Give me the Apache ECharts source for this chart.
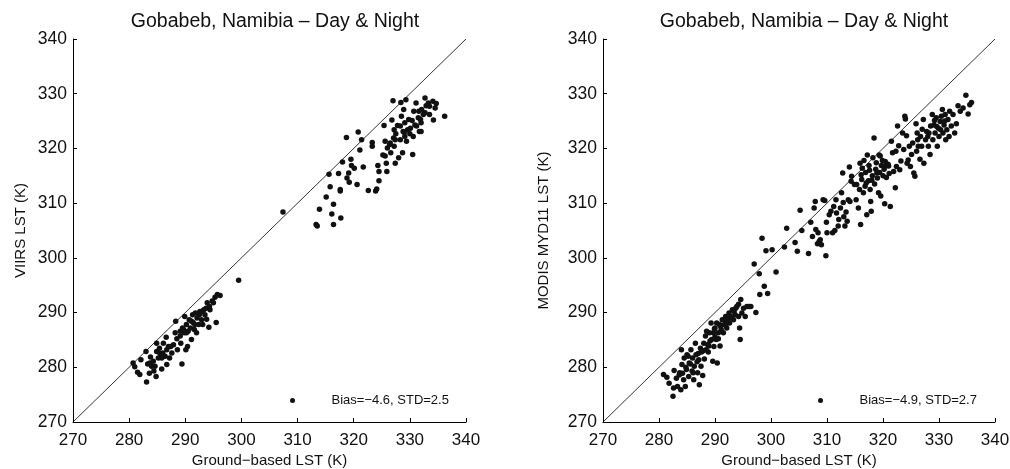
<!DOCTYPE html>
<html>
<head>
<meta charset="utf-8">
<script src="https://cdn.jsdelivr.net/npm/echarts@6/dist/echarts.min.js"></script>
<style>
html,body{margin:0;padding:0;background:#fff;}
#chart{width:1010px;height:469px;}
</style>
</head>
<body>
<div id="chart"></div>
<script>
// ---- data ----
const titleText = "Gobabeb, Namibia \u2013 Day & Night";
const xName = "Ground\u2212based LST (K)";
const yNameLeft = "VIIRS LST (K)";
const yNameRight = "MODIS MYD11 LST (K)";
const legendLeft = "Bias=\u22124.6, STD=2.5";
const legendRight = "Bias=\u22124.9, STD=2.7";
const axisMin = 270, axisMax = 340, axisStep = 10;
const diagonal = [[270, 270], [340, 340]];

// VIIRS vs ground (x = ground, y = VIIRS)
const viirsX = [
 307.4,313.3,313.5,313.9,315.1,315.6,315.8,316.1,316.4,316.4,317.3,317.6,317.6,317.7,318.0,318.7,318.8,319.1,319.2,319.5,
 319.6,320.1,320.6,320.8,321.1,321.4,321.7,322.6,323.3,323.3,323.9,324.1,324.3,324.5,324.5,325.2,325.4,325.6,325.6,325.8,
 325.9,326.0,326.4,326.6,326.8,327.0,327.1,327.2,327.2,327.4,327.5,327.8,328.0,328.3,328.4,328.7,328.8,328.9,329.1,329.3,
 329.4,329.6,329.8,330.0,330.5,330.6,330.7,331.1,331.5,331.7,332.0,332.1,332.4,332.7,332.9,333.3,334.1,334.2,334.5,334.7,
 336.2,328.3,329.1,331.2,331.9,332.7,333.5,327.4,326.5,328.5,330.1,330.9,332.0,333.5,329.0,331.6,330.4,
 280.7,281.0,281.5,281.9,282.1,283.0,283.1,283.3,283.6,283.8,284.0,284.3,284.4,284.8,284.9,284.9,285.2,285.5,285.8,286.0,
 286.1,286.4,286.6,286.7,287.2,287.4,287.6,287.9,288.3,288.2,288.5,288.6,289.1,289.2,289.4,289.5,289.8,289.9,290.1,290.2,
 290.4,290.5,290.7,290.9,291.1,291.3,291.4,291.6,291.8,292.0,292.1,292.4,292.6,292.9,293.1,293.3,293.5,293.8,293.9,294.2,
 294.4,294.8,295.0,295.3,295.5,295.7,296.2,299.5,
 291.1,292.5,291.7,290.2,289.7,292.9,293.7,294.3,289.1,287.0,285.4,284.6,286.7,285.8,283.7
];
const viirsY = [
 308.4,306.1,305.8,308.9,311.1,315.3,313.0,308.0,309.8,306.1,315.4,312.5,312.2,307.3,317.5,322.0,314.6,315.5,313.8,318.0,
 316.9,316.4,313.4,323.0,319.7,321.6,316.6,312.3,321.1,320.4,312.2,312.6,316.9,315.8,314.1,318.8,324.2,321.3,318.6,317.3,
 315.8,320.1,320.7,319.2,325.2,328.7,321.9,323.4,320.4,317.3,322.7,324.2,318.3,321.6,328.4,319.2,323.1,327.1,324.7,328.9,
 321.3,323.4,325.3,322.7,318.9,322.2,326.8,328.3,325.6,323.1,324.7,327.1,326.2,329.2,327.8,328.3,328.6,325.2,327.4,328.2,
 325.9,324.1,322.2,324.1,325.3,326.5,327.7,321.6,321.0,325.9,323.7,324.3,323.1,326.2,322.9,326.8,325.1,
 280.8,280.1,279.1,278.7,281.4,282.9,277.3,280.6,278.9,281.9,280.2,281.1,279.3,278.3,282.9,284.4,281.7,282.5,279.7,282.6,
 284.4,282.0,285.5,283.2,281.7,283.8,282.6,284.1,288.4,286.3,285.2,283.2,286.6,284.4,280.6,287.2,286.3,289.3,283.2,287.8,
 283.8,286.6,288.7,287.2,285.1,289.6,288.2,286.9,289.9,286.3,289.0,287.8,290.2,288.7,287.8,290.5,289.6,288.8,291.8,287.3,
 290.5,292.1,291.8,292.8,288.2,293.3,293.1,295.9,
 288.4,289.6,287.8,286.3,286.9,290.2,290.8,291.1,285.7,283.8,283.5,280.2,280.5,281.7,280.8
];

// MODIS MYD11 vs ground (x = ground, y = MODIS)
const modisX = [
 280.8,281.4,281.8,282.5,282.6,282.7,283.1,283.3,283.7,283.9,284.0,284.1,284.4,284.5,284.7,284.9,285.0,285.3,285.4,285.7,
 285.9,286.0,286.2,286.3,286.5,286.6,286.9,287.1,287.2,287.4,287.5,287.6,287.8,288.0,288.1,288.3,288.4,288.5,288.7,288.8,
 289.0,289.3,289.4,289.6,289.7,289.8,290.0,290.2,290.3,290.4,290.6,290.8,290.9,291.1,291.3,291.5,291.7,291.9,292.1,292.3,
 292.5,292.6,292.8,293.1,293.3,293.4,293.6,293.9,294.2,294.4,294.5,294.6,294.8,295.1,295.4,295.7,296.1,296.4,297.3,297.0,
 297.9,298.0,298.4,298.8,299.1,299.4,300.2,300.9,302.4,302.8,304.3,304.7,305.2,305.5,306.7,307.1,307.4,307.7,307.9,308.0,
 308.3,308.4,308.6,308.8,309.0,309.3,309.6,309.8,309.9,310.0,310.4,310.7,311.0,311.2,311.4,311.6,311.7,312.0,312.1,312.4,
 312.6,312.8,312.9,313.0,313.2,313.4,313.6,313.8,314.0,314.1,314.3,314.4,314.9,315.2,315.3,315.6,315.8,315.9,316.0,316.2,
 316.3,316.5,316.6,316.8,316.9,317.1,317.2,317.4,317.5,317.7,317.8,317.9,318.1,318.2,318.4,318.5,318.7,318.8,319.0,319.2,
 319.3,319.4,319.6,319.7,319.9,320.0,320.2,320.3,320.5,320.6,320.9,321.1,321.3,321.5,321.7,321.9,322.2,322.3,322.4,322.6,
 322.8,323.0,323.2,323.5,323.7,323.9,324.0,324.2,324.3,324.5,324.7,324.9,325.1,325.3,325.5,325.7,325.9,326.0,326.2,326.3,
 326.6,326.7,326.9,327.2,327.3,327.6,327.8,328.1,328.2,328.4,328.5,328.8,328.9,329.1,329.3,329.5,329.7,329.9,330.0,330.2,
 330.4,330.6,330.7,330.9,331.1,331.2,331.4,331.6,331.8,331.9,332.2,332.5,332.8,333.1,333.4,333.8,334.3,334.8,335.2,335.5,
 335.8,
 285.2,286.8,287.9,289.1,290.0,291.0,292.0,293.0,283.6,284.8,286.1,288.9,289.9,291.9,293.7,294.2,287.0,290.6,285.6,284.2,
 317.6,318.9,320.4,319.5,321.0,316.1,317.0,318.0,327.0,329.6,330.3,331.0,328.0,326.1,329.2
];
const modisY = [
 278.7,278.2,277.1,274.7,276.2,279.4,278.0,276.5,279.0,275.9,283.2,280.5,277.7,281.7,276.5,279.6,282.3,278.3,280.8,283.2,
 279.3,281.7,277.7,280.2,284.4,282.3,279.0,281.4,276.8,283.5,280.2,282.8,278.5,284.4,281.5,285.7,283.2,286.6,284.1,282.8,
 286.3,288.1,285.1,281.1,286.3,283.8,287.2,285.1,288.1,280.8,286.3,287.8,283.9,286.9,288.7,286.3,287.8,289.3,287.2,288.7,
 289.9,288.1,289.3,290.5,288.7,290.2,289.6,291.1,289.3,287.2,285.1,292.4,289.9,290.8,289.3,291.1,291.1,291.1,290.0,298.9,
 297.1,293.3,303.6,294.8,301.3,293.5,301.5,297.4,302.0,305.4,302.8,301.2,308.7,305.0,300.8,306.5,303.9,309.1,310.3,305.2,
 302.6,304.6,303.0,303.3,302.4,310.6,310.5,300.4,306.5,304.6,307.9,308.5,304.6,309.4,305.0,310.6,308.2,305.8,307.0,309.1,
 311.9,315.5,310.1,307.5,305.8,308.4,306.7,310.6,316.6,310.3,314.0,314.9,313.4,310.6,313.4,309.1,312.5,317.3,306.1,314.3,
 316.4,311.9,317.8,313.1,315.6,307.9,318.8,314.1,316.9,312.5,310.3,308.5,315.0,318.3,321.9,313.5,316.2,317.4,314.6,311.9,
 318.8,315.6,311.3,316.9,317.8,315.0,316.2,309.9,316.8,314.7,317.1,315.4,309.4,321.3,319.2,315.8,312.8,319.5,316.7,324.1,
 320.5,316.1,317.7,322.8,319.8,325.9,325.4,322.3,317.3,317.9,320.4,316.7,318.9,321.0,315.5,314.9,324.5,319.5,321.6,320.4,
 318.0,322.2,320.4,325.3,317.3,321.6,323.1,320.4,322.8,318.9,324.1,326.2,321.6,324.3,322.8,325.6,320.4,323.7,322.2,324.9,
 325.9,327.1,322.8,324.3,326.2,321.6,323.4,325.3,322.2,326.8,324.1,326.2,322.8,324.5,327.8,326.8,327.4,329.7,326.3,328.0,
 328.4,
 282.0,281.0,283.0,284.8,285.6,287.5,288.3,289.0,278.6,280.0,279.0,283.9,287.0,287.7,290.8,291.5,282.5,285.2,280.6,278.9,
 316.0,315.5,317.6,318.6,316.8,315.2,313.7,314.2,323.5,324.0,323.4,325.0,322.2,322.8,325.1
];

const axisTicks = [270, 280, 290, 300, 310, 320, 330, 340];

// ---- build ----
function pairs(xs, ys) { return xs.map((x, i) => [x, ys[i]]); }
const FONT = "'Liberation Sans', Arial, Helvetica, sans-serif";
const INK = '#111';

function makeX(gridIndex) {
  return {
    type: 'value', gridIndex, min: axisMin, max: axisMax, interval: axisStep,
    name: xName, nameLocation: 'middle', nameGap: 31, nameMoveOverlap: false,
    nameTextStyle: { fontFamily: FONT, fontSize: 15, color: INK },
    axisLine: { show: true, onZero: false, lineStyle: { color: '#000', width: 1 } },
    axisTick: { show: true, inside: true, length: 4, lineStyle: { color: '#000' } },
    axisLabel: { fontFamily: FONT, fontSize: 17, color: INK, margin: 10,
      formatter: v => axisTicks.includes(v) ? String(v) : '' },
    splitLine: { show: false }
  };
}
function makeY(gridIndex, name, gap) {
  return {
    type: 'value', gridIndex, min: axisMin, max: axisMax, interval: axisStep,
    name, nameLocation: 'middle', nameGap: gap, nameRotate: 90,
    nameTextStyle: { fontFamily: FONT, fontSize: 15, color: INK },
    axisLine: { show: true, onZero: false, lineStyle: { color: '#000', width: 1 } },
    axisTick: { show: true, inside: true, length: 4, lineStyle: { color: '#000' } },
    axisLabel: { fontFamily: FONT, fontSize: 17.5, color: INK, margin: 6,
      formatter: v => axisTicks.includes(v) ? String(v) : '' },
    splitLine: { show: false }
  };
}

const chart = echarts.init(document.getElementById('chart'), null, { renderer: 'canvas' });
chart.setOption({
  backgroundColor: '#fff',
  animation: false,
  title: [
    { text: titleText, left: 270, top: 7, textAlign: 'center',
      textStyle: { fontFamily: FONT, fontSize: 19.5, fontWeight: 'normal', color: INK } },
    { text: titleText, left: 799, top: 7, textAlign: 'center',
      textStyle: { fontFamily: FONT, fontSize: 19.5, fontWeight: 'normal', color: INK } }
  ],
  grid: [
    { left: 73, top: 39, width: 393, height: 383, containLabel: false, outerBoundsMode: 'none' },
    { left: 603, top: 39, width: 392, height: 383, containLabel: false, outerBoundsMode: 'none' }
  ],
  legend: [
    { data: [legendLeft], left: 285, top: 389, itemWidth: 68, itemHeight: 5, itemGap: 0,
      icon: 'circle', textStyle: { fontFamily: FONT, fontSize: 13, color: INK } },
    { data: [legendRight], left: 813, top: 389, itemWidth: 68, itemHeight: 5, itemGap: 0,
      icon: 'circle', textStyle: { fontFamily: FONT, fontSize: 13, color: INK } }
  ],
  xAxis: [makeX(0), makeX(1)],
  yAxis: [makeY(0, yNameLeft, 45), makeY(1, yNameRight, 52)],
  series: [
    { type: 'line', xAxisIndex: 0, yAxisIndex: 0, data: diagonal, symbol: 'none',
      lineStyle: { color: '#000', width: 0.8 }, silent: true, z: 1 },
    { type: 'line', xAxisIndex: 1, yAxisIndex: 1, data: diagonal, symbol: 'none',
      lineStyle: { color: '#000', width: 0.8 }, silent: true, z: 1 },
    { name: legendLeft, type: 'scatter', xAxisIndex: 0, yAxisIndex: 0,
      data: pairs(viirsX, viirsY), symbol: 'circle', symbolSize: 5.5,
      itemStyle: { color: INK, opacity: 1 }, z: 2 },
    { name: legendRight, type: 'scatter', xAxisIndex: 1, yAxisIndex: 1,
      data: pairs(modisX, modisY), symbol: 'circle', symbolSize: 5.5,
      itemStyle: { color: INK, opacity: 1 }, z: 2 }
  ]
});
</script>
</body>
</html>
